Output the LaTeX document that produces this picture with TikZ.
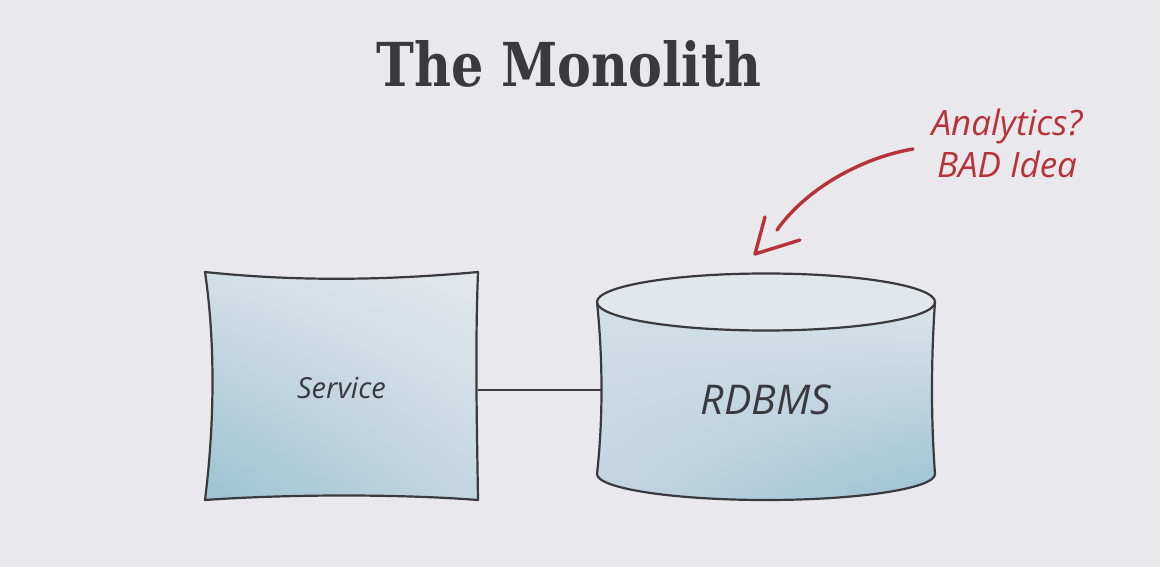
\documentclass[tikz,border=0pt]{standalone}
\usepackage{fontspec}
\usepackage{graphicx}
\newfontfamily\titlefont{DejaVu Serif}
\newfontfamily\hand{Open Sans}
\usetikzlibrary{calc,shadings}
\definecolor{bg}{HTML}{E9E8EC}
\definecolor{ink}{HTML}{3A3A3E}
\definecolor{redink}{HTML}{B8323A}
\definecolor{blueD}{HTML}{9CC2D3}
\definecolor{blueM}{HTML}{C3D6E0}
\definecolor{blueL}{HTML}{E4E8EC}
\definecolor{blueT}{HTML}{D3DFE6}
\tikzset{
  sketch/.style={draw=ink, line width=2.2pt, line join=round, line cap=round},
  handtext/.style={font=\hand\itshape, text=ink},
  redline/.style={draw=redink, line width=3.4pt, line cap=round, line join=round},
  conn/.style={draw=ink, line width=2.4pt},
}
\begin{document}
\begin{tikzpicture}[x=1pt,y=-1pt]
\fill[bg] (0,0) rectangle (1160,567);
\useasboundingbox (0,0) rectangle (1160,567);

% title
\node[font=\titlefont\fontsize{56}{60}\selectfont, text=ink, inner sep=0pt, anchor=base] (title) at (569,87) {\resizebox{385pt}{46pt}{\bfseries The Monolith}};

% Service box
\shade[upper left=blueT, upper right=blueL, lower left=blueD, lower right=blueM]
  (205,272) .. controls (300,282) and (390,280) .. (478,272)
  .. controls (475,350) and (477,430) .. (478,500)
  .. controls (400,494) and (290,494) .. (205,500)
  .. controls (215,420) and (215,340) .. (205,272) -- cycle;
\draw[sketch]
  (205,272) .. controls (300,282) and (390,280) .. (478,272)
  .. controls (475,350) and (477,430) .. (478,500)
  .. controls (400,494) and (290,494) .. (205,500)
  .. controls (215,420) and (215,340) .. (205,272) -- cycle;
\node[handtext, font=\hand\itshape\fontsize{29}{32}\selectfont, minimum width=273pt, minimum height=228pt, inner sep=0pt] (service) at (341.5,388) {Service};

% RDBMS cylinder
\shade[upper left=blueT, upper right=blueL, lower left=blueM, lower right=blueD]
  (597,302) .. controls (603,360) and (603,420) .. (597,474)
  arc[start angle=180, end angle=360, x radius=169, y radius=-26]
  .. controls (931,420) and (931,360) .. (935,302)
  arc[start angle=0, end angle=180, x radius=169, y radius=-28.5] -- cycle;
\fill[blueL!85!blueT] (766,302) ellipse[x radius=169, y radius=28.5];
\draw[sketch]
  (597,302) .. controls (603,360) and (603,420) .. (597,474)
  arc[start angle=180, end angle=360, x radius=169, y radius=-26]
  .. controls (931,420) and (931,360) .. (935,302);
\draw[sketch] (766,302) ellipse[x radius=169, y radius=28.5];
\node[handtext, font=\hand\itshape\fontsize{41}{44}\selectfont, minimum width=330pt, minimum height=150pt, inner sep=0pt] (db) at (766,400) {RDBMS};

% connector
\draw[conn] ([yshift=-2pt]service.east) -- ([yshift=-2pt]service.east -| db.west);

% annotation
\node[font=\hand\itshape\fontsize{35}{42}\selectfont, text=redink, align=center] (note) at (1007,143) {Analytics?\\BAD Idea};
\coordinate (a1) at (913,149);
\coordinate (a2) at (777,230);
\coordinate (tip) at (755,254);
\draw[redline] (a1) .. controls (860,158) and (805,190) .. (a2);
\draw[redline] ($(tip)+(10,-37)$) -- (tip) -- ($(tip)+(45,-14)$);
\end{tikzpicture}
\end{document}
